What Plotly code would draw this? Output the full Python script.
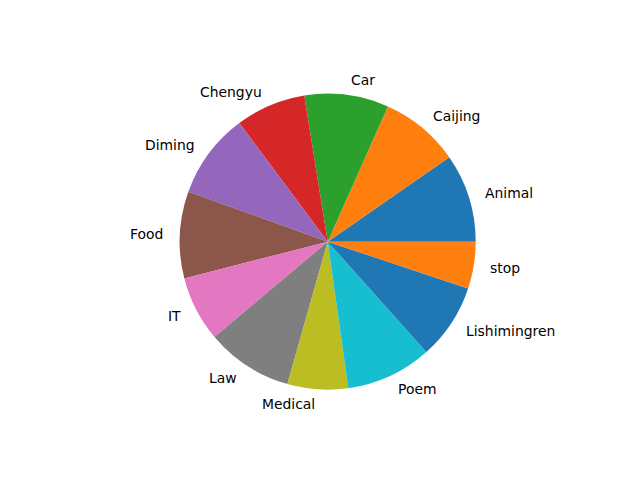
import math
import plotly.graph_objects as go

labels = ["Animal", "Caijing", "Car", "Chengyu", "Diming", "Food", "IT", "Law",
          "Medical", "Poem", "Lishimingren", "stop"]
values = [34.8, 31.2, 33.1, 27.6, 33.6, 34.1, 25.7, 34.1, 23.8, 33.8, 29.8, 18.4]
colors = ["#1f77b4", "#ff7f0e", "#2ca02c", "#d62728", "#9467bd", "#8c564b",
          "#e377c2", "#7f7f7f", "#bcbd22", "#17becf", "#1f77b4", "#ff7f0e"]

W, H = 640, 480
cx, cy, r = 327.7, 241.7, 148.0  # pixel center (from top) and radius

total = sum(values)
# plotly's counterclockwise pies end the first slice at `rotation`;
# shift so the first slice starts at 3 o'clock like matplotlib
rot = 90 - 360.0 * values[0] / total

fig = go.Figure(go.Pie(
    labels=labels, values=values, sort=False, direction="counterclockwise",
    rotation=rot, textinfo="none", hoverinfo="label+value",
    marker=dict(colors=colors, line=dict(width=0)),
    domain=dict(x=[(cx - r) / W, (cx + r) / W],
                y=[(H - cy - r) / H, (H - cy + r) / H]),
    showlegend=False,
))

acc = 0.0
for lab, v in zip(labels, values):
    mid = math.radians(360.0 * (acc + v / 2) / total)
    acc += v
    x = cx + 1.1 * r * math.cos(mid)
    y = (H - cy) + 1.1 * r * math.sin(mid)
    fig.add_annotation(
        x=x / W, y=y / H, xref="paper", yref="paper", text=lab, showarrow=False,
        xanchor="left" if math.cos(mid) > 0 else "right", yanchor="middle",
        font=dict(family="DejaVu Sans", size=13.9, color="black"),
    )

fig.update_layout(width=W, height=H, margin=dict(l=0, r=0, t=0, b=0),
                  paper_bgcolor="white", plot_bgcolor="white")
fig.write_html("out.html")
